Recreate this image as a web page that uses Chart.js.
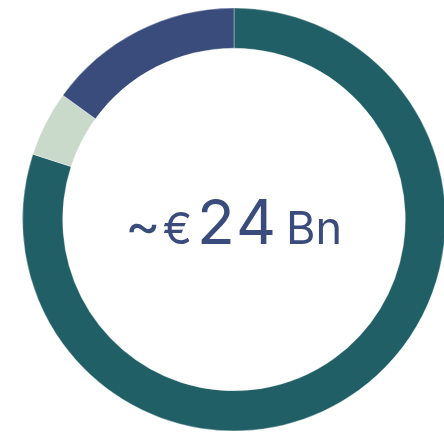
<!DOCTYPE html>
<html>
<head>
<meta charset="utf-8">
<script src="https://cdn.jsdelivr.net/npm/chart.js@4.4.0/dist/chart.umd.min.js"></script>
<style>
  html, body { margin: 0; padding: 0; background: #fff; overflow: hidden; width: 444px; height: 433px; }
  #wrap { position: absolute; left: 0; top: 0; width: 468px; height: 433px; }
  #txt { position: absolute; left: 125px; top: 191px; display: flex; align-items: baseline; color: #3A4C7B; font-family: Inter, sans-serif; font-weight: 400; white-space: nowrap; line-height: 1; pointer-events: none; }
  .t { font-size: 54px; }
  .e { font-size: 44px; margin-left: 2px; }
  .b { font-size: 62px; margin-left: 5px; letter-spacing: 2px; }
  .m { font-size: 45px; margin-left: 8px; }
</style>
</head>
<body>
<div id="wrap"><canvas id="c" width="468" height="433"></canvas>
<div id="txt"><span class="t">~</span><span class="e">€</span><span class="b">24</span><span class="m">Bn</span></div>
</div>
<script>
const categories = ["Segment A", "Segment B", "Segment C"];
const values = [80, 5, 15];
const colors = ["#215F66", "#C9D9CA", "#3A4C7B"];

new Chart(document.getElementById('c'), {
  type: 'doughnut',
  data: {
    labels: categories,
    datasets: [{
      data: values,
      backgroundColor: colors,
      borderColor: 'rgba(255,255,255,0.35)',
      borderWidth: 1,
      hoverOffset: 0
    }]
  },
  options: {
    responsive: false,
    animation: false,
    cutout: '81%',
    layout: { padding: { top: 7.5, bottom: 1.5, left: 0, right: 0 } },
    plugins: { legend: { display: false }, tooltip: { enabled: false } }
  }
});
</script>
</body>
</html>
